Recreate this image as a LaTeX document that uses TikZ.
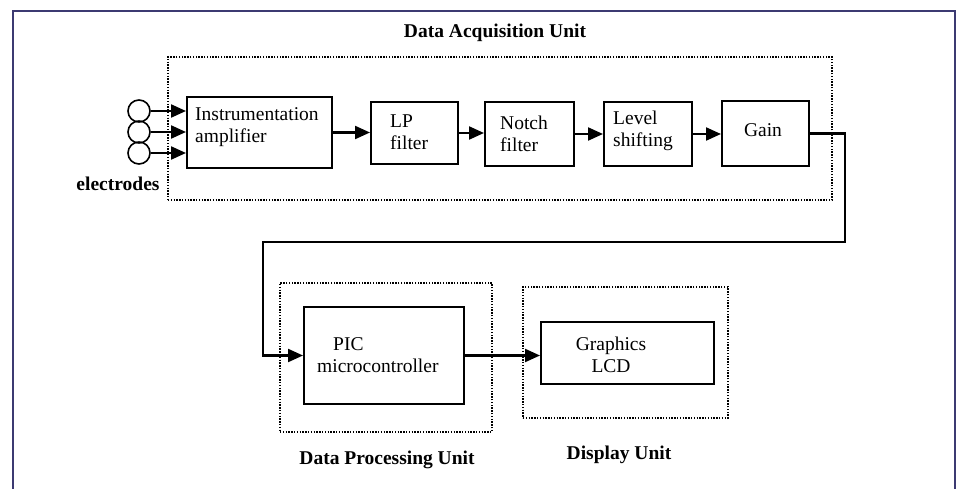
\documentclass[tikz,border=0pt]{standalone}
\usepackage{fontspec}
\setmainfont{Liberation Serif}
\usetikzlibrary{fit,arrows.meta}
\definecolor{framecol}{HTML}{3C3A72}
\tikzset{
  blk/.style={draw=black, line width=2pt, inner sep=0pt},
  unitbox/.style={draw=black, line width=1.6pt, dash pattern=on 1.4pt off 1.4pt, inner sep=0pt},
  conn/.style={line width=2.2pt, -{Triangle[length=15pt,width=13pt]}},
  lbl/.style={font=\fontsize{19.5}{22}\selectfont, inner sep=0pt, align=left},
  ttl/.style={font=\fontsize{19.5}{22}\selectfont\bfseries, inner sep=0pt},
  elec/.style={circle, draw=black, line width=1.6pt, minimum size=22pt, inner sep=0pt}
}
\begin{document}
\begin{tikzpicture}[x=1pt,y=-1pt]
\useasboundingbox[fill=white] (0,0) rectangle (960,489);
% outer frame
\draw[framecol, line width=2.2pt] (13,489) -- (13,11) -- (955,11) -- (955,489);

% unit boxes
\node[unitbox, fit={(168,57) (832,200)}] (dau) {};
\node[unitbox, fit={(280,283) (492,432)}] (dpu) {};
\node[unitbox, fit={(523,287) (728,418)}] (du) {};

% blocks
\node[blk, fit={(187,97) (332,168)}] (ia) {};
\node[blk, fit={(371,102) (458,164)}] (lp) {};
\node[blk, fit={(485,102) (574,166)}] (notch) {};
\node[blk, fit={(604,102) (692,166)}] (level) {};
\node[blk, fit={(722,101) (809,166)}] (gain) {};
\node[blk, fit={(304,307) (464,404)}] (pic) {};
\node[blk, fit={(541,322) (714,384)}] (lcd) {};

% electrodes
\node[elec] (e1) at (139,111) {};
\node[elec] (e2) at (139,132) {};
\node[elec] (e3) at (139,153) {};

% texts
\node[ttl] (tdau) at (495,33) {Data Acquisition Unit};
\node[ttl] (telec) at (118,184) {electrodes};
\node[ttl] (tdpu) at (387,460) {Data Processing Unit};
\node[ttl] (tdu) at (619,455) {Display Unit};
\node[lbl, anchor=west] (tia) at (195,127) {Instrumentation\\amplifier};
\node[lbl, anchor=west] (tlp) at (390,132) {LP\\filter};
\node[lbl, anchor=west] (tnotch) at (500,134) {Notch\\filter};
\node[lbl, anchor=west] (tlevel) at (613,131) {Level\\shifting};
\node[lbl] (tgain) at (763,130) {Gain};
\node[lbl, anchor=west] (tpic) at (317,355) {\hspace{16pt}PIC\\microcontroller};
\node[lbl, align=center] (tlcd) at (611,355) {Graphics\\LCD};

% connectors
\draw[conn] (e1.east) -- (e1.east -| ia.west);
\draw[conn] (e2.east) -- (e2.east -| ia.west);
\draw[conn] (e3.east) -- (e3.east -| ia.west);
\draw[conn] (ia.east) -- (ia.east -| lp.west);
\draw[conn] (lp.east) -- (lp.east -| notch.west);
\draw[conn] (notch.east) -- (notch.east -| level.west);
\draw[conn] (level.east) -- (level.east -| gain.west);
\coordinate (c1) at (845,242);
\coordinate (c2) at (263,242);
\draw[conn] (gain.east) -| (c1) -- (c2) |- (pic.west);
\draw[conn] (pic.east) -- (pic.east -| lcd.west);
\end{tikzpicture}
\end{document}
